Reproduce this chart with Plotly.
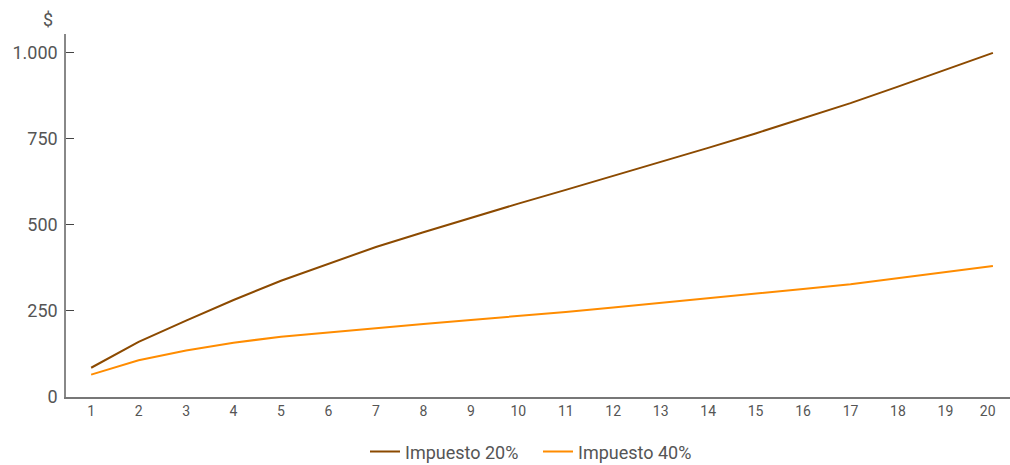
import plotly.graph_objects as go

years = list(range(1, 21))
impuesto_20 = [85, 160, 222, 282, 338, 388, 436, 479, 521, 562, 602, 642, 683, 724, 766, 809, 854, 902, 950, 1000]
impuesto_40 = [65, 107, 135, 158, 175, 188, 200, 212, 224, 235, 247, 260, 273, 287, 300, 314, 328, 345, 362, 381]
y_ticks = [0, 250, 500, 750, 1000]
x_labels = [str(v) for v in years[:-1]] + ["20\u00a0\u00a0\u00a0"]
series_names = ["Impuesto 20%", "Impuesto 40%"]

FONT = "Roboto, Liberation Sans, sans-serif"
TXT = "#555555"

fig = go.Figure()
fig.add_trace(go.Scatter(x=years, y=impuesto_20, mode="lines", name=series_names[0],
                         line=dict(color="#8C4A00", width=2)))
fig.add_trace(go.Scatter(x=years, y=impuesto_40, mode="lines", name=series_names[1],
                         line=dict(color="#FF8C00", width=2)))

fig.update_layout(
    width=1010, height=465,
    margin=dict(l=66, r=0, t=34, b=68, autoexpand=False),
    paper_bgcolor="white", plot_bgcolor="white",
    separators=",.",
    font=dict(family=FONT, color=TXT),
    showlegend=True,
    legend=dict(orientation="h", x=0.5, xanchor="center", y=-0.100, yanchor="top",
                font=dict(size=18, color=TXT, family=FONT), itemwidth=30,
                entrywidth=128, entrywidthmode="pixels",
                bgcolor="rgba(0,0,0,0)"),
    xaxis=dict(range=[0.47, 20.36], tickvals=years, ticktext=x_labels, automargin=False,
               showgrid=False, zeroline=False, showline=True, linecolor="#777777", linewidth=1.5,
               ticks="", tickfont=dict(size=14, color=TXT, family=FONT)),
    yaxis=dict(range=[0, 1055], tickvals=y_ticks, tickformat=",d", automargin=False,
               showgrid=False, zeroline=False, showline=True, linecolor="#888888", linewidth=1.5,
               ticks="inside", ticklen=8, tickcolor="#444444", tickwidth=1.2,
               ticklabelstandoff=3,
               tickfont=dict(size=18, color=TXT, family=FONT)),
)

fig.add_annotation(text="$", xref="paper", yref="paper", x=-0.019, y=1.0386,
                   xanchor="center", yanchor="middle", showarrow=False,
                   font=dict(size=18, color=TXT, family=FONT))

fig.write_html("out.html", config={"displayModeBar": False},
               post_script="document.body.style.margin='0';document.body.style.overflow='hidden';")
